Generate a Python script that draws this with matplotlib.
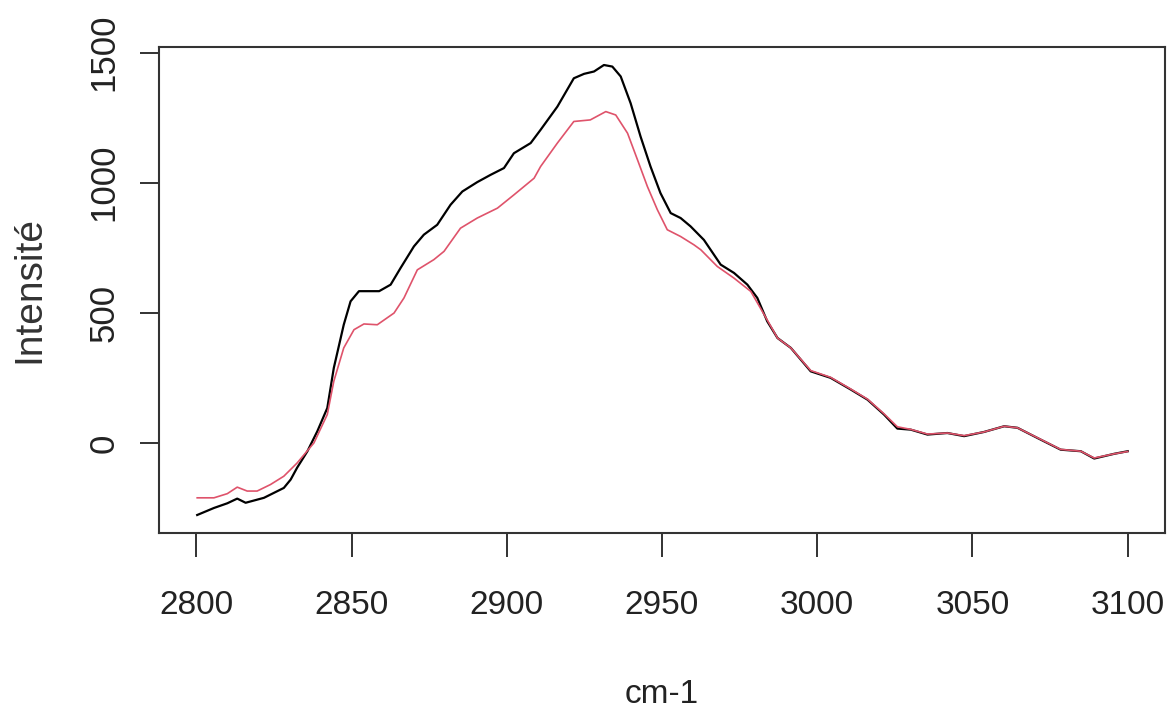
import matplotlib
matplotlib.use("Agg")
import matplotlib.pyplot as plt

# Wavenumber (cm-1) and intensity values
black_x = [2800.3, 2805.7, 2810.0, 2813.2, 2815.9, 2821.8, 2828.2, 2830.4, 2832.5, 2835.8,
           2839.0, 2842.2, 2844.3, 2847.5, 2849.7, 2852.4, 2858.9, 2862.6, 2865.8, 2870.1,
           2873.3, 2877.6, 2881.9, 2885.7, 2890.5, 2894.8, 2899.1, 2902.3, 2907.7, 2910.9,
           2916.3, 2921.6, 2924.9, 2928.1, 2931.3, 2934.0, 2936.7, 2939.9, 2943.1, 2946.3,
           2949.5, 2952.8, 2956.0, 2959.2, 2963.5, 2968.9, 2973.2, 2977.5, 2980.7, 2983.9,
           2987.2, 2991.5, 2997.9, 3004.3, 3010.8, 3016.2, 3021.5, 3025.8, 3030.1, 3035.5,
           3041.9, 3047.3, 3053.7, 3060.2, 3064.5, 3070.9, 3078.4, 3084.9, 3089.2, 3095.6,
           3100.0]
black_y = [-277, -250, -232, -214, -230, -211, -173, -141, -95, -32,
           45, 134, 288, 454, 544, 583, 583, 608, 672, 755,
           800, 838, 915, 966, 1002, 1030, 1056, 1113, 1152, 1203,
           1292, 1401, 1418, 1427, 1452, 1446, 1408, 1305, 1177, 1062,
           960, 883, 864, 832, 780, 685, 653, 608, 557, 467,
           403, 365, 275, 250, 205, 166, 109, 55, 51, 32,
           38, 26, 42, 64, 58, 19, -26, -32, -60, -42,
           -32]

red_x = [2800.3, 2805.7, 2810.0, 2813.2, 2816.4, 2819.6, 2823.9, 2828.2, 2832.5, 2837.9,
         2842.2, 2844.3, 2847.5, 2850.8, 2854.0, 2858.3, 2863.7, 2866.9, 2871.2, 2876.5,
         2879.8, 2885.1, 2890.5, 2897.0, 2902.3, 2908.8, 2910.9, 2916.3, 2921.6, 2926.9,
         2931.9, 2935.1, 2938.9, 2942.1, 2945.3, 2948.5, 2951.7, 2956.0, 2960.3, 2962.5,
         2967.8, 2973.2, 2978.6, 2982.9, 2987.2, 2991.5, 2997.9, 3004.3, 3010.8, 3016.2,
         3021.5, 3025.8, 3030.1, 3035.5, 3041.9, 3047.3, 3053.7, 3060.2, 3064.5, 3070.9,
         3078.4, 3084.9, 3089.2, 3095.6, 3100.0]
red_y = [-211, -211, -195, -170, -185, -185, -160, -128, -77, 0,
         109, 237, 365, 435, 457, 454, 499, 557, 665, 704,
         736, 825, 864, 902, 953, 1017, 1062, 1152, 1235, 1241,
         1273, 1260, 1190, 1088, 985, 896, 819, 793, 761, 742,
         678, 633, 582, 493, 403, 365, 278, 252, 207, 168,
         112, 62, 52, 34, 38, 28, 42, 64, 58, 20,
         -25, -32, -58, -42, -33]

x_ticks = [2800, 2850, 2900, 2950, 3000, 3050, 3100]
y_ticks = [0, 500, 1000, 1500]

plt.rcParams['font.family'] = ['Liberation Sans', 'DejaVu Sans']

fig = plt.figure(figsize=(11.67, 7.16), dpi=100)
ax = fig.add_axes([159 / 1167, 1 - 533 / 716, (1165 - 159) / 1167, (533 - 47) / 716])

ax.plot(black_x, black_y, color='black', lw=1.6)
ax.plot(red_x, red_y, color='#DF536B', lw=1.2)

xmin, xmax = 2800, 3100
ymin = min(min(black_y), min(red_y))
ymax = max(max(black_y), max(red_y))
ax.set_xlim(xmin - 0.04 * (xmax - xmin), xmax + 0.04 * (xmax - xmin))
ax.set_ylim(ymin - 0.04 * (ymax - ymin), ymax + 0.04 * (ymax - ymin))

ax.set_xticks(x_ticks)
ax.set_xticklabels([str(t) for t in x_ticks], fontsize=24)
ax.set_yticks(y_ticks)
ax.set_yticklabels([str(t) for t in y_ticks], rotation=90, va='center', fontsize=25)

ax.tick_params(axis='x', length=17, width=1.3, pad=24, colors='#222222')
ax.tick_params(axis='y', length=13.5, width=1.3, pad=14, colors='#222222')
for s in ax.spines.values():
    s.set_linewidth(1.5)
    s.set_color('#333333')

ax.set_xlabel('cm-1', fontsize=24, color='#222222', labelpad=42)
ax.set_ylabel('Intensité', fontsize=28, color='#333333', labelpad=29)

fig.savefig('out.png', dpi=100)
